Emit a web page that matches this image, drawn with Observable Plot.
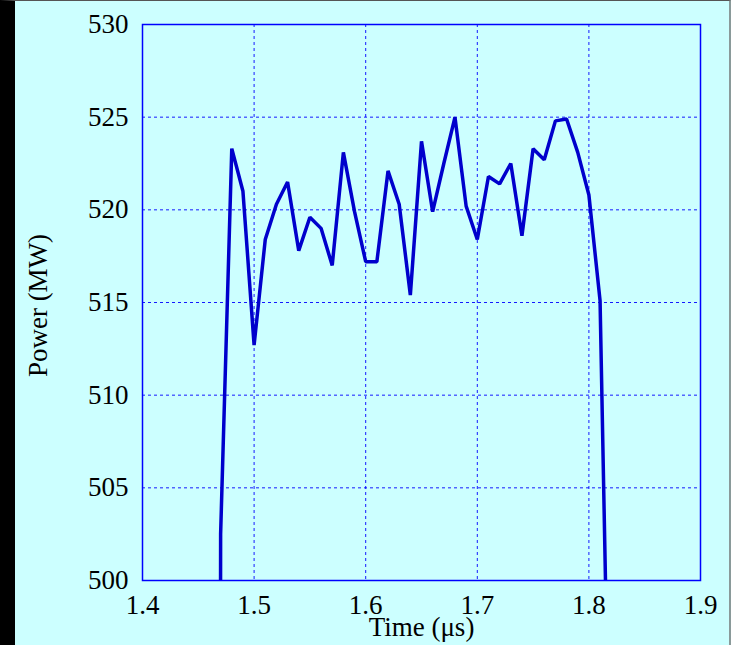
<!DOCTYPE html>
<html>
<head>
<meta charset="utf-8">
<script src="https://cdn.jsdelivr.net/npm/d3@7"></script>
<script src="https://cdn.jsdelivr.net/npm/@observablehq/plot@0.6"></script>
<style>
  html, body { margin: 0; padding: 0; background: #ccffff; }
  #wrap {
    position: absolute; left: 0; top: 0; width: 731px; height: 645px;
    box-sizing: border-box; background: #ccffff;
    border-left: 15px solid #000; border-top: 1px solid #555; border-right: 2px solid #8a9a9a;
  }
</style>
</head>
<body>
<div id="wrap"></div>
<script>
const time = [1.46, 1.47, 1.48, 1.49, 1.50, 1.51, 1.52, 1.53, 1.54, 1.55, 1.56, 1.57, 1.58, 1.59,
  1.60, 1.61, 1.62, 1.63, 1.64, 1.65, 1.66, 1.67, 1.68, 1.69, 1.70, 1.71, 1.72, 1.73, 1.74,
  1.75, 1.76, 1.77, 1.78, 1.79, 1.80, 1.81, 1.82];
const power = [0, 502.5, 523.3, 521.0, 512.7, 518.4, 520.3, 521.5, 517.8, 519.6, 519.0, 517.0, 523.1, 519.9,
  517.2, 517.2, 522.1, 520.3, 515.4, 523.7, 519.9, 522.5, 525.0, 520.2, 518.4, 521.8, 521.4, 522.5, 518.6,
  523.3, 522.7, 524.8, 524.9, 523.1, 520.8, 515.1, 484];
const xTicks = [1.4, 1.5, 1.6, 1.7, 1.8, 1.9];
const yTicks = [500, 505, 510, 515, 520, 525, 530];
const xLabel = "Time (μs)";
const yLabel = "Power (MW)";

const data = time.map((t, i) => ({t, p: power[i]}));
const W = 714, H = 644;
const mL = 127, mR = 29, mT = 23, mB = 65;
const FS = 27;

const chart = Plot.plot({
  width: W, height: H,
  marginLeft: mL, marginRight: mR, marginTop: mT, marginBottom: mB,
  style: {background: "transparent", fontFamily: "'Liberation Serif', 'Times New Roman', serif", fontSize: FS + "px", color: "#000"},
  x: {domain: [1.4, 1.9]},
  y: {domain: [500, 530]},
  marks: [
    Plot.gridX(xTicks, {stroke: "#0000ff", strokeOpacity: 0.9, strokeWidth: 1, strokeDasharray: "3,3"}),
    Plot.gridY(yTicks, {stroke: "#0000ff", strokeOpacity: 0.9, strokeWidth: 1, strokeDasharray: "3,3"}),
    Plot.frame({stroke: "#0000ff", strokeWidth: 1.5}),
    Plot.line(data, {x: "t", y: "p", stroke: "#0000cc", strokeWidth: 3.5, clip: true, strokeLinejoin: "miter"}),
    Plot.axisX(xTicks, {tickSize: 0, tickPadding: 14, tickFormat: d => d.toFixed(1), label: null, fontSize: FS, fill: "#000"}),
    Plot.axisY(yTicks, {tickSize: 0, tickPadding: 14, tickFormat: d => String(d), label: null, fontSize: FS, fill: "#000"}),
    Plot.text([xLabel], {frameAnchor: "bottom", text: d => d, lineAnchor: "bottom", dy: 55, fontSize: FS, fill: "#000"}),
    Plot.text([yLabel], {frameAnchor: "left", text: d => d, rotate: -90, textAnchor: "middle", lineAnchor: "middle", dx: -104, dy: 3, fontSize: FS, fill: "#000"})
  ]
});
document.getElementById("wrap").appendChild(chart);
</script>
</body>
</html>
